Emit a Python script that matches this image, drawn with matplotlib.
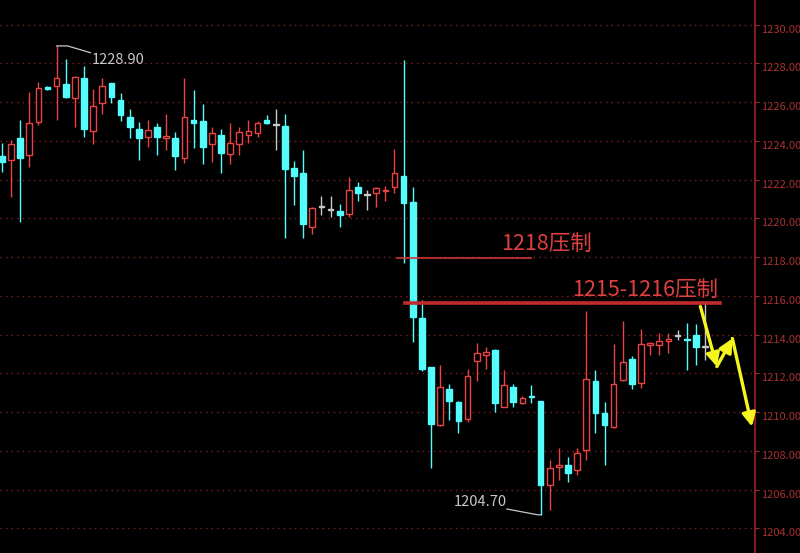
import numpy as np
import matplotlib
matplotlib.use('Agg')
import matplotlib.pyplot as plt

plt.rcParams['font.family'] = ['Noto Sans CJK SC', 'DejaVu Sans']

# K线数据 (开, 高, 低, 收)
opens = [1223.22, 1223.00, 1224.13, 1223.27, 1224.99, 1226.80, 1226.84, 1226.93, 1226.19, 1227.26,
         1224.52, 1225.94, 1226.97, 1226.11, 1225.21, 1224.59, 1224.21, 1224.73, 1224.17, 1224.13,
         1223.10, 1225.07, 1225.02, 1223.83, 1224.30, 1223.30, 1223.83, 1224.29, 1224.42, 1225.07,
         1224.80, 1224.76, 1222.58, 1222.32, 1219.57, 1220.57, 1220.43, 1220.38, 1220.22, 1221.60,
         1221.20, 1221.29, 1221.39, 1221.60, 1222.18, 1220.86, 1214.84, 1212.31, 1209.33, 1211.17,
         1210.50, 1209.63, 1212.65, 1212.94, 1213.20, 1210.28, 1211.28, 1210.45, 1210.81, 1210.57,
         1206.24, 1207.16, 1207.27, 1207.01, 1208.04, 1211.62, 1209.97, 1209.24, 1211.65, 1212.72,
         1211.51, 1213.46, 1213.46, 1213.68, 1213.93, 1213.78, 1213.98, 1213.37]
highs = [1223.89, 1224.04, 1225.07, 1226.53, 1227.05, 1226.85, 1228.90, 1228.22, 1227.35, 1227.86,
         1226.66, 1227.26, 1227.00, 1226.45, 1225.63, 1224.99, 1225.07, 1224.90, 1225.38, 1224.47,
         1227.23, 1226.62, 1225.90, 1224.73, 1224.59, 1224.90, 1224.70, 1225.07, 1225.02, 1225.33,
         1225.63, 1225.38, 1222.97, 1223.53, 1220.60, 1221.15, 1221.15, 1220.74, 1222.15, 1221.89,
         1221.46, 1221.60, 1221.67, 1223.56, 1228.17, 1221.60, 1215.78, 1212.35, 1212.43, 1211.43,
         1210.55, 1212.21, 1213.55, 1213.34, 1213.25, 1212.17, 1211.45, 1210.83, 1211.40, 1210.60,
         1207.53, 1208.13, 1207.70, 1208.13, 1215.23, 1212.17, 1210.53, 1213.51, 1214.71, 1212.89,
         1214.27, 1213.63, 1214.10, 1214.06, 1214.24, 1214.61, 1214.54, 1215.70]
lows = [1222.40, 1221.11, 1219.82, 1222.66, 1224.82, 1226.65, 1225.07, 1226.19, 1224.73, 1224.18,
        1223.83, 1225.38, 1225.94, 1225.04, 1224.13, 1223.01, 1223.70, 1223.27, 1223.53, 1222.49,
        1222.84, 1223.63, 1222.80, 1222.92, 1222.35, 1222.80, 1223.27, 1223.87, 1224.18, 1224.88,
        1223.53, 1218.97, 1220.69, 1218.97, 1219.19, 1220.17, 1220.08, 1219.57, 1220.08, 1220.91,
        1220.43, 1220.60, 1220.91, 1221.29, 1217.68, 1213.63, 1212.10, 1207.10, 1209.30, 1209.59,
        1208.90, 1209.50, 1211.62, 1212.22, 1210.02, 1210.25, 1210.25, 1210.43, 1210.45, 1204.70,
        1204.94, 1206.49, 1206.41, 1206.75, 1207.53, 1208.90, 1207.27, 1209.20, 1211.60, 1211.17,
        1211.23, 1212.94, 1212.94, 1213.06, 1213.72, 1212.17, 1212.43, 1212.69]
closes = [1222.92, 1223.82, 1223.10, 1224.90, 1226.71, 1226.70, 1227.23, 1226.25, 1227.31, 1224.59,
          1225.81, 1226.83, 1226.28, 1225.33, 1224.70, 1224.13, 1224.56, 1224.21, 1224.20, 1223.22,
          1225.21, 1224.93, 1223.70, 1224.42, 1223.39, 1223.87, 1224.44, 1224.49, 1224.90, 1224.90,
          1224.80, 1222.53, 1222.18, 1219.71, 1220.52, 1220.57, 1220.43, 1220.17, 1221.46, 1221.32,
          1221.20, 1221.55, 1221.49, 1222.32, 1220.77, 1214.92, 1212.22, 1209.38, 1211.31, 1210.59,
          1209.54, 1211.88, 1213.03, 1213.11, 1210.45, 1211.40, 1210.53, 1210.74, 1210.76, 1206.24,
          1207.10, 1207.29, 1206.87, 1207.87, 1211.69, 1209.94, 1209.33, 1211.45, 1212.60, 1211.45,
          1213.51, 1213.55, 1213.68, 1213.75, 1213.93, 1213.73, 1213.37, 1213.37]

# 压力位 (价格, 起点K线, 终点K线, 文字)
resist_levels = [1217.95, 1215.62]
resist_start = [43.3, 44.1]
resist_end = [57.9, 78.7]
resist_labels = ['1218压制', '1215-1216压制']

# 预期走势箭头
arrow_x = [76.5, 78.3, 80.0, 82.15]
arrow_y = [1215.45, 1212.35, 1213.8, 1209.25]

CYAN = '#54fcfc'
RED = '#e84444'
GRAY = '#c8c8c8'

o = np.array(opens)
h = np.array(highs)
l = np.array(lows)
c = np.array(closes)
x = np.arange(len(o))

fig = plt.figure(figsize=(8, 5.53), dpi=100, facecolor='black')
ax = fig.add_axes([0, 0, 0.944, 1])
ax.set_facecolor('black')

edge = np.where(c > o, RED, np.where(c < o, CYAN, GRAY))
face = np.where(c > o, 'black', edge)

# 影线
ax.vlines(x, l, h, colors=edge, lw=1, zorder=2)
# 实体
bottom = np.minimum(o, c)
height = np.maximum(np.abs(c - o), 0.06)
ax.bar(x, height, bottom=bottom, width=0.62, color=face, edgecolor=edge,
       linewidth=1, zorder=3)

# 网格
ax.set_xlim(-0.2, 82.5)
ax.set_ylim(1202.73, 1231.27)
yt = np.arange(1204, 1231, 2)
for v in yt:
    ax.axhline(v, color='#8a1c1c', lw=1, ls=(0, (1, 3)), zorder=1)

ax.yaxis.tick_right()
ax.set_yticks(yt)
ax.set_yticklabels(['%.2f' % v for v in yt])
ax.tick_params(axis='y', colors='#a83030', labelsize=8, length=3, pad=1)
for lab in ax.get_yticklabels():
    lab.set_verticalalignment('top')
ax.set_xticks([])
for s in ['top', 'left', 'bottom']:
    ax.spines[s].set_visible(False)
ax.spines['right'].set_color('#a02020')
ax.spines['right'].set_linewidth(1.2)

# 最高/最低标注
hi = int(np.argmax(h))
ax.plot([hi, hi + 1.2, hi + 3.7], [h[hi], h[hi], h[hi] - 0.35], color=GRAY, lw=0.9, zorder=4)
ax.text(hi + 3.9, h[hi] - 0.75, '%.2f' % h[hi], color=GRAY, fontsize=10.5, va='center', ha='left')
lo = int(np.argmin(l))
ax.plot([lo, lo - 0.3, lo - 3.7], [l[lo], l[lo], l[lo] + 0.3], color=GRAY, lw=0.9, zorder=4)
ax.text(lo - 3.7, l[lo] + 0.65, '%.2f' % l[lo], color=GRAY, fontsize=10.5, va='center', ha='right')

# 压力线
lws = [1.2, 2.6]
line_colors = ['#d03636', '#c02c2c']
for lev, xs, xe, lw, lc in zip(resist_levels, resist_start, resist_end, lws, line_colors):
    ax.plot([xs, xe], [lev, lev], color=lc, lw=lw, zorder=5)
ax.text(54.7, 1218.68, resist_labels[0], color='#e04040', fontsize=15.5, va='center', ha='left')
ax.text(62.4, 1216.28, resist_labels[1], color='#e04040', fontsize=15.5, va='center', ha='left')

# 黄色箭头
for i in range(len(arrow_x) - 1):
    ax.annotate('', xy=(arrow_x[i + 1], arrow_y[i + 1]), xytext=(arrow_x[i], arrow_y[i]),
                arrowprops=dict(arrowstyle='-|>', color='#f5f520', lw=2.4,
                                mutation_scale=20, shrinkA=0, shrinkB=0),
                zorder=6, annotation_clip=False)

fig.savefig('out.png', dpi=100, facecolor='black')
